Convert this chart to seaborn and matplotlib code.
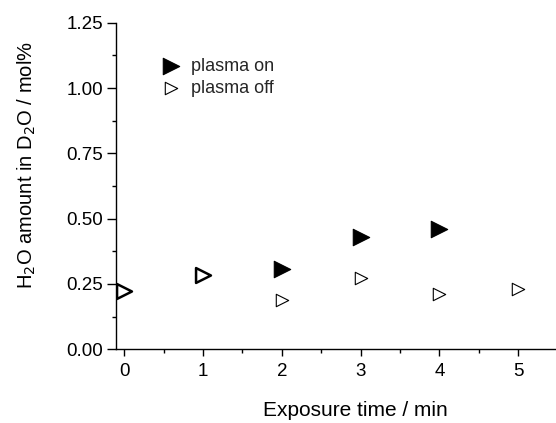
import matplotlib
matplotlib.use("Agg")
import matplotlib.pyplot as plt
import seaborn as sns
import pandas as pd
from matplotlib.ticker import MultipleLocator

sns.set_theme(style="ticks")
plt.rcParams['font.family'] = ['Liberation Sans', 'DejaVu Sans']

on_time = [2, 3, 4]
on_value = [0.306, 0.429, 0.460]
off_time = [0, 1, 2, 3, 4, 5]
off_value = [0.223, 0.283, 0.189, 0.274, 0.210, 0.230]

df_on = pd.DataFrame({"t": on_time, "v": on_value})
df_off = pd.DataFrame({"t": off_time, "v": off_value})

fig = plt.figure(figsize=(5.56, 4.23), dpi=100)
ax = fig.add_axes([0.2086, 0.1742, 0.7914, 0.7721])

sns.scatterplot(data=df_on, x="t", y="v", marker=">", s=140, color="black",
                edgecolor="black", linewidth=0.8, ax=ax, label="plasma on", zorder=3)
sns.scatterplot(data=df_off, x="t", y="v", marker=">", s=80, facecolor="white",
                edgecolor="black", linewidth=0.8, ax=ax, label="plasma off", zorder=3)
# initial points (t = 0, 1) are drawn bolder in the reference
sns.scatterplot(data=df_off.iloc[:2], x="t", y="v", marker=">", s=115, facecolor="white",
                edgecolor="black", linewidth=1.8, ax=ax, legend=False, zorder=4)

ax.set_xlim(-0.105, 5.48)
ax.set_ylim(0, 1.25)
ax.xaxis.set_major_locator(MultipleLocator(1))
ax.xaxis.set_minor_locator(MultipleLocator(0.5))
ax.yaxis.set_major_locator(MultipleLocator(0.25))
ax.yaxis.set_minor_locator(MultipleLocator(0.125))
ax.yaxis.set_major_formatter(matplotlib.ticker.FormatStrFormatter('%.2f'))
for s in ["top", "right"]:
    ax.spines[s].set_visible(False)
for s in ["left", "bottom"]:
    ax.spines[s].set_color("black")
    ax.spines[s].set_linewidth(1.0)
ax.tick_params(axis="x", which="major", direction="out", length=5, width=1, colors="black",
               labelsize=13.5, pad=5)
ax.tick_params(axis="y", which="major", direction="out", length=6.5, width=1, colors="black",
               labelsize=13.5, pad=3)
ax.tick_params(which="minor", direction="out", length=3, width=1, colors="black")

ax.set_xlabel("Exposure time / min", fontsize=15, color="black")
ax.set_ylabel(r"H$_2$O amount in D$_2$O / mol%", fontsize=14.5, color="black")
ax.xaxis.set_label_coords(0.545, -0.157)
ax.yaxis.set_label_coords(-0.178, 0.564)

leg = ax.legend(loc="upper left", bbox_to_anchor=(0.075, 0.915), frameon=False,
                fontsize=13, handletextpad=0.35, labelspacing=0.3, borderaxespad=0,
                handlelength=1.6)

fig.savefig("out.png", dpi=100)
